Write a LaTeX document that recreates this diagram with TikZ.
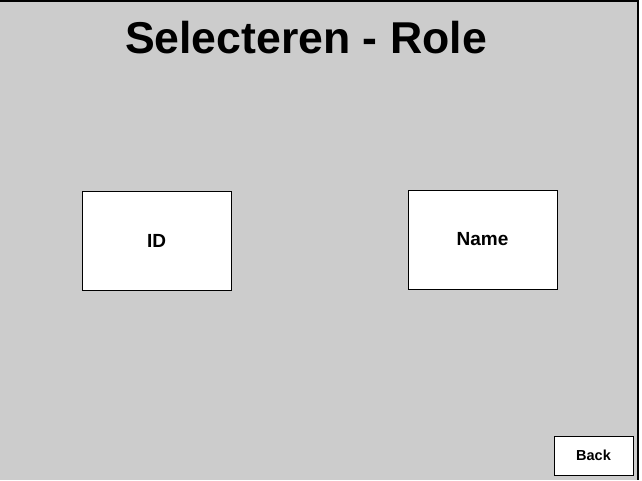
\documentclass[tikz,border=0pt]{standalone}
\usepackage{fontspec}
\setmainfont{Liberation Sans}
\definecolor{screengray}{HTML}{CCCCCC}
\tikzset{
  field/.style={draw=black, fill=white, line width=0.8pt, minimum width=149pt, minimum height=99pt, font=\bfseries\fontsize{19}{22}\selectfont},
  button/.style={draw=black, fill=white, line width=0.8pt, minimum width=79pt, minimum height=39pt, font=\bfseries\fontsize{14.5}{17}\selectfont}
}
\begin{document}
\begin{tikzpicture}[x=1pt,y=-1pt]
  \useasboundingbox (0,0) rectangle (642,480);
  \fill[screengray] (0,0) rectangle (638,480);
  \draw[line width=1.5pt] (0,0.75) -- (638,0.75) -- (638,480);
  \node (title) at (306,38) {\bfseries\fontsize{44.6}{50}\selectfont Selecteren - Role};
  \node[field] (id) at (156.5,240.5) {ID};
  \node[field] (name) at (482.5,239.5) {Name};
  \node[button] (back) at (593.5,455.5) {Back};
\end{tikzpicture}
\end{document}
